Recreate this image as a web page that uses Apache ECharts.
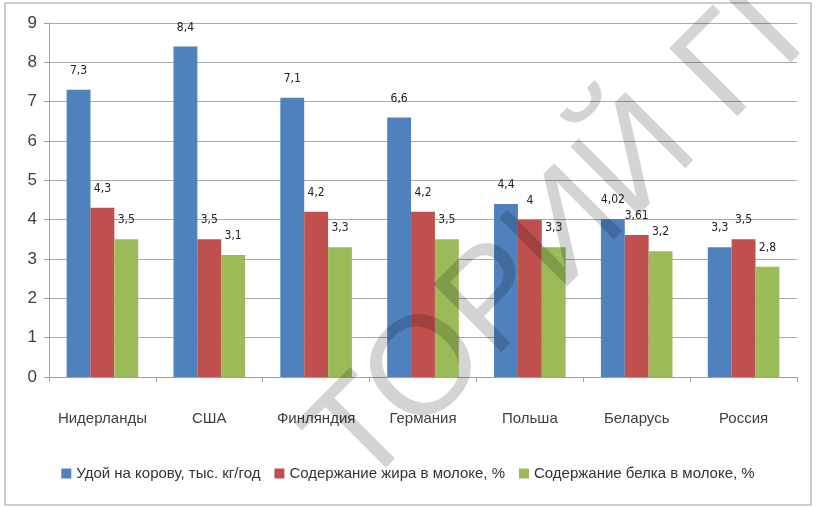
<!DOCTYPE html>
<html>
<head>
<meta charset="utf-8">
<script src="https://cdn.jsdelivr.net/npm/echarts@6/dist/echarts.min.js"></script>
<style>
  html, body { margin: 0; padding: 0; background: #fff; }
  #chart { width: 816px; height: 508px; }
</style>
</head>
<body>
<div id="chart"></div>
<script>
// страны
var countries = ["Нидерланды", "США", "Финляндия", "Германия", "Польша", "Беларусь", "Россия"];
// серии
var seriesNames = [
  "Удой на корову, тыс. кг/год",
  "Содержание жира в молоке, %",
  "Содержание белка в молоке, %"
];
var milkYield = [7.3, 8.4, 7.1, 6.6, 4.4, 4.02, 3.3];
var fatContent = [4.3, 3.5, 4.2, 4.2, 4, 3.61, 3.5];
var proteinContent = [3.5, 3.1, 3.3, 3.5, 3.3, 3.2, 2.8];
var colorList = ["#4f81bd", "#c0504d", "#9bbb59"];

var myChart = echarts.init(document.getElementById("chart"));

function makeSeries(name, data, color) {
  return {
    name: name,
    type: "bar",
    data: data,
    barGap: 0,
    barCategoryGap: "33%",
    itemStyle: { color: color },
    label: {
      show: true,
      position: "top",
      distance: 13,
      color: "#222",
      fontSize: 12,
      fontFamily: "Liberation Sans Narrow, DejaVu Sans Condensed, sans-serif",
      formatter: function (p) {
        return String(p.value).replace(".", ",");
      }
    }
  };
}

var option = {
  animation: false,
  backgroundColor: "#fff",
  grid: {
    left: 49,
    right: 19,
    top: 23,
    bottom: 131
  },
  legend: {
    left: "center",
    top: 461,
    itemWidth: 10,
    itemHeight: 10,
    itemGap: 14,
    icon: "rect",
    textStyle: {
      color: "#333",
      fontSize: 15,
      fontFamily: "Liberation Sans Narrow, Liberation Sans, sans-serif"
    },
    data: seriesNames
  },
  xAxis: {
    type: "category",
    data: countries,
    axisLine: { lineStyle: { color: "#a0a0a0", width: 1 } },
    axisTick: { show: true, length: 5, lineStyle: { color: "#a0a0a0" } },
    axisLabel: {
      interval: 0,
      margin: 34,
      color: "#404040",
      fontSize: 15,
      fontFamily: "Liberation Sans Narrow, Liberation Sans, sans-serif"
    }
  },
  yAxis: {
    type: "value",
    min: 0,
    max: 9,
    interval: 1,
    axisLine: { show: true, lineStyle: { color: "#a0a0a0", width: 1 } },
    axisTick: { show: true, length: 5, lineStyle: { color: "#a0a0a0" } },
    splitLine: { lineStyle: { color: "#a8a8a8", width: 1 } },
    axisLabel: {
      margin: 12,
      color: "#404040",
      fontSize: 17,
      fontFamily: "Liberation Sans Narrow, Liberation Sans, sans-serif"
    }
  },
  graphic: {
    elements: [
      {
        type: "rect",
        shape: { x: 5, y: 3, width: 806, height: 502 },
        style: { fill: null, stroke: "#999", lineWidth: 1 },
        silent: true,
        z: 0
      },
      {
        // водяной знак
        type: "text",
        x: 333,
        y: 466,
        rotation: Math.PI / 4,
        style: {
          text: "ТОРИЙ ГГ",
          fontSize: 140,
          fontFamily: "Liberation Sans, Arial, sans-serif",
          fill: "rgba(0,0,0,0.17)",
          textAlign: "left",
          textVerticalAlign: "middle",
          align: "left",
          verticalAlign: "middle"
        },
        silent: true,
        z: 100
      }
    ]
  },
  series: [
    makeSeries(seriesNames[0], milkYield, colorList[0]),
    makeSeries(seriesNames[1], fatContent, colorList[1]),
    makeSeries(seriesNames[2], proteinContent, colorList[2])
  ]
};
myChart.setOption(option);
</script>
</body>
</html>
